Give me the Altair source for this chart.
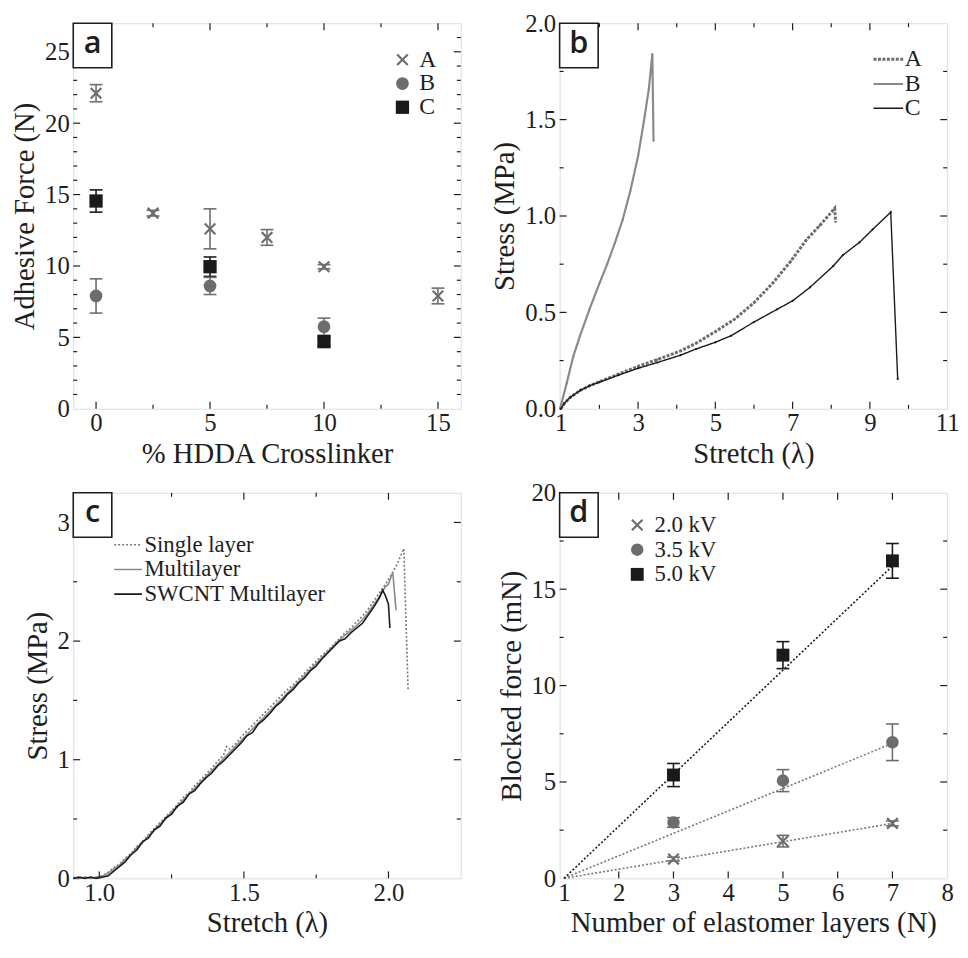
import altair as alt
import pandas as pd

SERIF = "Liberation Serif"
SANS = "Open Sans"
FRAME = "#1e1e1e"
GRAY = "#6d6d6d"
LGRAY = "#8a8a8a"
BLACK = "#1a1a1a"
W, H = 392, 390
XPATH = "M-1,-0.75L-0.75,-1L0,-0.25L0.75,-1L1,-0.75L0.25,0L1,0.75L0.75,1L0,0.25L-0.75,1L-1,0.75L-0.25,0Z"

# ---------------- panel a : adhesive force ----------------
a_series = ["A", "B", "C"]
a_A_x = [0, 2.5, 5, 7.5, 10, 15]
a_A_y = [22.1, 13.7, 12.6, 12.0, 9.95, 7.9]
a_A_err = [0.6, 0.2, 1.4, 0.55, 0.15, 0.55]
a_B_x = [0, 5, 10]
a_B_y = [7.9, 8.6, 5.75]
a_B_err = [1.2, 0.6, 0.6]
a_C_x = [0, 5, 10]
a_C_y = [14.55, 9.95, 4.7]
a_C_err = [0.78, 0.68, 0.3]

# ---------------- panel b : stress-stretch ----------------
b_series = ["A", "B", "C"]
b_A_x = [1.0, 1.1, 1.25, 1.5, 1.75, 2.0, 2.5, 3.0, 3.5, 4.1, 4.5, 5.0, 5.5, 6.0, 6.5, 6.95, 7.35, 7.7, 8.09, 8.11]
b_A_y = [0.0, 0.03, 0.06, 0.095, 0.12, 0.14, 0.18, 0.22, 0.255, 0.30, 0.34, 0.40, 0.465, 0.55, 0.655, 0.765, 0.875, 0.95, 1.04, 0.97]
b_B_x = [0.98, 1.15, 1.32, 1.5, 1.75, 2.0, 2.2, 2.4, 2.6, 2.8, 3.0, 3.15, 3.28, 3.37, 3.40]
b_B_y = [0.0, 0.13, 0.27, 0.38, 0.52, 0.65, 0.75, 0.86, 0.98, 1.13, 1.31, 1.49, 1.66, 1.84, 1.39]
b_C_x = [1.0, 1.1, 1.25, 1.5, 1.75, 2.0, 2.5, 3.0, 3.5, 4.1, 4.5, 5.0, 5.4, 6.0, 6.6, 7.0, 7.45, 8.05, 8.3, 8.73, 9.07, 9.54, 9.72]
b_C_y = [0.0, 0.03, 0.06, 0.095, 0.12, 0.138, 0.175, 0.21, 0.24, 0.278, 0.31, 0.345, 0.378, 0.45, 0.516, 0.56, 0.63, 0.74, 0.797, 0.863, 0.93, 1.02, 0.155]

# ---------------- panel c : layers stress-stretch ----------------
c_series = ["Single layer", "Multilayer", "SWCNT Multilayer"]
c_single_x = [0.91, 0.93, 0.95, 0.97, 0.99, 1.01, 1.03, 1.05, 1.07, 1.09, 1.11, 1.13, 1.15, 1.17, 1.19, 1.21, 1.23, 1.25, 1.27, 1.29,
              1.31, 1.33, 1.35, 1.37, 1.39, 1.41, 1.43, 1.44, 1.45, 1.47, 1.49, 1.51, 1.53, 1.55, 1.57, 1.59, 1.61, 1.63, 1.65, 1.67,
              1.69, 1.71, 1.73, 1.75, 1.77, 1.79, 1.81, 1.83, 1.85, 1.87, 1.89, 1.91, 1.93, 1.95, 1.97, 1.99, 2.01, 2.03, 2.053, 2.068]
c_single_y = [0.01, 0.00, 0.01, 0.00, 0.01, 0.02, 0.05, 0.09, 0.12, 0.17, 0.21, 0.27, 0.31, 0.37, 0.42, 0.47, 0.52, 0.57, 0.62, 0.68,
              0.72, 0.78, 0.83, 0.88, 0.93, 0.99, 1.04, 1.11, 1.09, 1.13, 1.19, 1.24, 1.29, 1.34, 1.39, 1.44, 1.49, 1.54, 1.59, 1.63,
              1.68, 1.73, 1.78, 1.83, 1.88, 1.92, 1.97, 2.02, 2.07, 2.11, 2.16, 2.21, 2.27, 2.34, 2.41, 2.48, 2.56, 2.65, 2.78, 1.58]
c_multi_x = [0.91, 0.93, 0.95, 0.97, 0.99, 1.01, 1.03, 1.05, 1.07, 1.09, 1.11, 1.13, 1.15, 1.17, 1.19, 1.21, 1.23, 1.25, 1.27, 1.29,
             1.31, 1.33, 1.35, 1.37, 1.39, 1.41, 1.43, 1.45, 1.47, 1.49, 1.51, 1.53, 1.55, 1.57, 1.59, 1.61, 1.63, 1.65, 1.67, 1.69,
             1.71, 1.73, 1.75, 1.77, 1.79, 1.81, 1.83, 1.85, 1.87, 1.89, 1.91, 1.93, 1.95, 1.97, 1.99, 2.0, 2.015, 2.026]
c_multi_y = [0.00, 0.00, 0.01, 0.00, 0.01, 0.02, 0.04, 0.08, 0.11, 0.16, 0.20, 0.26, 0.30, 0.36, 0.40, 0.46, 0.50, 0.56, 0.60, 0.66,
             0.71, 0.76, 0.81, 0.86, 0.91, 0.96, 1.01, 1.06, 1.11, 1.16, 1.21, 1.26, 1.31, 1.36, 1.41, 1.46, 1.51, 1.56, 1.61, 1.66,
             1.71, 1.76, 1.81, 1.86, 1.91, 1.96, 2.01, 2.05, 2.09, 2.13, 2.18, 2.24, 2.31, 2.38, 2.46, 2.48, 2.58, 2.26]
c_swcnt_x = [0.91, 0.93, 0.95, 0.97, 0.99, 1.01, 1.03, 1.05, 1.07, 1.09, 1.11, 1.13, 1.15, 1.17, 1.19, 1.21, 1.23, 1.25, 1.27, 1.29,
             1.31, 1.33, 1.35, 1.37, 1.39, 1.41, 1.43, 1.45, 1.47, 1.49, 1.51, 1.53, 1.55, 1.57, 1.59, 1.61, 1.63, 1.65, 1.67, 1.69,
             1.71, 1.73, 1.75, 1.77, 1.79, 1.81, 1.83, 1.85, 1.87, 1.89, 1.91, 1.93, 1.95, 1.97, 1.98, 1.99, 2.0, 2.005]
c_swcnt_y = [0.00, 0.01, 0.00, 0.01, 0.00, 0.01, 0.02, 0.06, 0.10, 0.14, 0.20, 0.24, 0.31, 0.34, 0.41, 0.44, 0.51, 0.54, 0.61, 0.64,
             0.71, 0.74, 0.80, 0.85, 0.89, 0.95, 0.99, 1.04, 1.09, 1.14, 1.20, 1.23, 1.30, 1.34, 1.39, 1.45, 1.49, 1.55, 1.59, 1.65,
             1.69, 1.75, 1.79, 1.85, 1.90, 1.95, 2.00, 2.02, 2.07, 2.11, 2.15, 2.22, 2.29, 2.37, 2.43, 2.38, 2.31, 2.11]

# ---------------- panel d : blocked force ----------------
d_series = ["2.0 kV", "3.5 kV", "5.0 kV"]
d_x = [3, 5, 7]
d_20_y = [1.0, 1.93, 2.85]
d_20_err = [0.1, 0.3, 0.13]
d_35_y = [2.9, 5.07, 7.06]
d_35_err = [0.25, 0.57, 0.95]
d_50_y = [5.36, 11.58, 16.47]
d_50_err = [0.6, 0.7, 0.9]
d_fit_x = [1, 7]
d_20_fit = [0, 2.85]
d_35_fit = [0, 7.0]
d_50_fit = [0, 16.2]

AX_STYLE = dict(ticks=False, tickSize=0, domain=False, grid=False, labelFlush=False, labelOverlap=False,
                labelFont=SERIF, labelFontSize=25, labelColor=FRAME, titleFont=SERIF, titleFontSize=29,
                titleFontWeight="normal", titleColor=FRAME)


def xaxis(title, values, fmt):
    return alt.Axis(title=title, values=values, format=fmt, labelPadding=2, titlePadding=4, **AX_STYLE)


def yaxis(title, values, fmt):
    return alt.Axis(title=title, values=values, format=fmt, labelPadding=4, titlePadding=5, **AX_STYLE)


def frame_ticks(xs, ys, axx, axy, xmaj, xmin, ymaj, ymin, maj=7, mnr=4):
    layers = []

    def rule(vals):
        return alt.Chart(pd.DataFrame({"v": vals})).mark_rule(color=FRAME, strokeWidth=1.2)

    for vals, L in ((xmaj, maj), (xmin, mnr)):
        if not vals:
            continue
        x = alt.X("v:Q", scale=xs, axis=axx)
        layers.append(rule(vals).encode(x=x, y=alt.value(H), y2=alt.value(H - L)))
        layers.append(rule(vals).encode(x=x, y=alt.value(0), y2=alt.value(L)))
    for vals, L in ((ymaj, maj), (ymin, mnr)):
        if not vals:
            continue
        y = alt.Y("v:Q", scale=ys, axis=axy)
        layers.append(rule(vals).encode(y=y, x=alt.value(0), x2=alt.value(L)))
        layers.append(rule(vals).encode(y=y, x=alt.value(W), x2=alt.value(W - L)))
    return layers


def panel_label(t):
    d = pd.DataFrame({"t": [t]})
    box = alt.Chart(d).mark_rect(fill="white", stroke=FRAME, strokeWidth=1.6).encode(
        x=alt.value(0), x2=alt.value(39), y=alt.value(0), y2=alt.value(45))
    txt = alt.Chart(d).mark_text(font=SANS, fontSize=31, fontWeight=600, color=FRAME,
                                 baseline="middle", align="center").encode(
        x=alt.value(19.5), y=alt.value(21), text="t:N")
    return [box, txt]


def errbars(df, xs, ys, axx, axy, cap=13):
    x = alt.X("x:Q", scale=xs, axis=axx)
    col = alt.Color("c:N", scale=None)
    r = alt.Chart(df).mark_rule(strokeWidth=1.6).encode(
        x=x, y=alt.Y("lo:Q", scale=ys, axis=axy), y2="hi:Q", color=col)
    lo = alt.Chart(df).mark_tick(orient="horizontal", size=cap, thickness=1.6, opacity=1).encode(
        x=x, y=alt.Y("lo:Q", scale=ys, axis=axy), color=col)
    hi = alt.Chart(df).mark_tick(orient="horizontal", size=cap, thickness=1.6, opacity=1).encode(
        x=x, y=alt.Y("hi:Q", scale=ys, axis=axy), color=col)
    return [r, lo, hi]


def pts_frame(series, xs_list, ys_list, errs_list, colors):
    rows = []
    for s, xs, ys, es, c in zip(series, xs_list, ys_list, errs_list, colors):
        for x, y, e in zip(xs, ys, es):
            rows.append({"s": s, "x": x, "y": y, "lo": y - e, "hi": y + e, "c": c})
    return pd.DataFrame(rows)


def lines_frame(series, xs_list, ys_list, colors=None):
    rows = []
    colors = colors or [None] * len(series)
    for s, xs, ys, c in zip(series, xs_list, ys_list, colors):
        for i, (x, y) in enumerate(zip(xs, ys)):
            rows.append({"s": s, "x": x, "y": y, "i": i, "c": c})
    return pd.DataFrame(rows)


# ================= panel a =================
xs_a = alt.Scale(domain=[-1, 16], nice=False, zero=False)
ys_a = alt.Scale(domain=[0, 27], nice=False, zero=False)
ax_ax = xaxis("% HDDA Crosslinker", [0, 5, 10, 15], "d")
ax_ay = yaxis("Adhesive Force (N)", [0, 5, 10, 15, 20, 25], "d")
df_a = pts_frame(a_series, [a_A_x, a_B_x, a_C_x], [a_A_y, a_B_y, a_C_y],
                 [a_A_err, a_B_err, a_C_err], [GRAY, GRAY, BLACK])
leg_a = alt.Legend(orient="none", legendX=321, legendY=25, title=None, labelFont=SERIF,
                   labelFontSize=24, labelColor=FRAME, symbolSize=150, rowPadding=-2,
                   labelOffset=5, padding=0, symbolStrokeWidth=0)
pts_a = alt.Chart(df_a).mark_point(filled=True, opacity=1).encode(
    x=alt.X("x:Q", scale=xs_a, axis=ax_ax),
    y=alt.Y("y:Q", scale=ys_a, axis=ax_ay),
    shape=alt.Shape("s:N", scale=alt.Scale(domain=a_series, range=[XPATH, "circle", "square"]), legend=leg_a),
    color=alt.Color("s:N", scale=alt.Scale(domain=a_series, range=[GRAY, GRAY, BLACK]), legend=leg_a),
    size=alt.Size("s:N", scale=alt.Scale(domain=a_series, range=[150, 180, 190]), legend=None),
)
panel_a = alt.layer(
    *errbars(df_a, xs_a, ys_a, ax_ax, ax_ay), pts_a,
    *frame_ticks(xs_a, ys_a, ax_ax, ax_ay, [0, 5, 10, 15], [2.5, 7.5, 12.5],
                 [5, 10, 15, 20, 25], [1, 2, 3, 4, 6, 7, 8, 9, 11, 12, 13, 14, 16, 17, 18, 19, 21, 22, 23, 24, 26]),
    *panel_label("a"),
).properties(width=W, height=H)

# ================= panel b =================
xs_b = alt.Scale(domain=[0.97, 11], nice=False, zero=False)
ys_b = alt.Scale(domain=[0, 2], nice=False, zero=False)
ax_bx = xaxis("Stretch (λ)", [1, 3, 5, 7, 9, 11], "d")
ax_by = yaxis("Stress (MPa)", [0, 0.5, 1, 1.5, 2], ".1f")
df_b = lines_frame(b_series, [b_A_x, b_B_x, b_C_x], [b_A_y, b_B_y, b_C_y])
leg_b = alt.Legend(orient="none", legendX=320, legendY=24, title=None, labelFont=SERIF,
                   labelFontSize=24, labelColor=FRAME, symbolSize=484, rowPadding=0,
                   labelOffset=4, padding=0, symbolStrokeWidth=1.6, symbolType="M-1.36,0L1.36,0")
lines_b = alt.Chart(df_b).mark_line(point=alt.OverlayMarkDef(size=5, filled=True, opacity=1)).encode(
    x=alt.X("x:Q", scale=xs_b, axis=ax_bx),
    y=alt.Y("y:Q", scale=ys_b, axis=ax_by),
    color=alt.Color("s:N", scale=alt.Scale(domain=b_series, range=[GRAY, LGRAY, BLACK]), legend=leg_b),
    strokeDash=alt.StrokeDash("s:N", scale=alt.Scale(domain=b_series, range=[[3, 1.5], [1, 0], [1, 0]]), legend=leg_b),
    strokeWidth=alt.StrokeWidth("s:N", scale=alt.Scale(domain=b_series, range=[3, 1.4, 1.6]), legend=None),
    order=alt.Order("i:Q"),
)
panel_b = alt.layer(
    lines_b,
    *frame_ticks(xs_b, ys_b, ax_bx, ax_by, [3, 5, 7, 9], [2, 4, 6, 8, 10],
                 [0.5, 1, 1.5], [0.25, 0.75, 1.25, 1.75]),
    *panel_label("b"),
).properties(width=W, height=H)

# ================= panel c =================
xs_c = alt.Scale(domain=[0.91, 2.25], nice=False, zero=False)
ys_c = alt.Scale(domain=[0, 3.25], nice=False, zero=False)
ax_cx = xaxis("Stretch (λ)", [1, 1.5, 2], ".1f")
ax_cy = yaxis("Stress (MPa)", [0, 1, 2, 3], "d")
df_c = lines_frame(c_series, [c_single_x, c_multi_x, c_swcnt_x], [c_single_y, c_multi_y, c_swcnt_y])
leg_c = alt.Legend(orient="none", legendX=43, legendY=40, title=None, labelFont=SERIF,
                   labelFontSize=23, labelColor=FRAME, symbolSize=529, rowPadding=0,
                   labelOffset=4, padding=0, symbolStrokeWidth=1.6, symbolType="M-1.22,0L1.22,0",
                   labelLimit=400)
lines_c = alt.Chart(df_c).mark_line().encode(
    x=alt.X("x:Q", scale=xs_c, axis=ax_cx),
    y=alt.Y("y:Q", scale=ys_c, axis=ax_cy),
    color=alt.Color("s:N", scale=alt.Scale(domain=c_series, range=["#777777", LGRAY, BLACK]), legend=leg_c),
    strokeDash=alt.StrokeDash("s:N", scale=alt.Scale(domain=c_series, range=[[2, 2], [1, 0], [1, 0]]), legend=leg_c),
    strokeWidth=alt.StrokeWidth("s:N", scale=alt.Scale(domain=c_series, range=[1.6, 1.6, 2.2]), legend=None),
    order=alt.Order("i:Q"),
)
panel_c = alt.layer(
    lines_c,
    *frame_ticks(xs_c, ys_c, ax_cx, ax_cy, [1, 1.5, 2], [1.25, 1.75],
                 [1, 2, 3], [0.5, 1.5, 2.5]),
    *panel_label("c"),
).properties(width=W, height=H)

# ================= panel d =================
xs_d = alt.Scale(domain=[0.92, 8], nice=False, zero=False)
ys_d = alt.Scale(domain=[0, 20], nice=False, zero=False)
ax_dx = xaxis("Number of elastomer layers (N)", [1, 2, 3, 4, 5, 6, 7, 8], "d")
ax_dy = yaxis("Blocked force (mN)", [0, 5, 10, 15, 20], "d")
df_d = pts_frame(d_series, [d_x, d_x, d_x], [d_20_y, d_35_y, d_50_y],
                 [d_20_err, d_35_err, d_50_err], [GRAY, GRAY, BLACK])
df_dfit = lines_frame(d_series, [d_fit_x] * 3, [d_20_fit, d_35_fit, d_50_fit],
                      ["#777777", "#777777", BLACK])
fit_d = alt.Chart(df_dfit).mark_line(strokeDash=[2, 2], strokeWidth=1.6).encode(
    x=alt.X("x:Q", scale=xs_d, axis=ax_dx),
    y=alt.Y("y:Q", scale=ys_d, axis=ax_dy),
    color=alt.Color("c:N", scale=None),
    detail="s:N",
)
leg_d = alt.Legend(orient="none", legendX=67, legendY=21, title=None, labelFont=SERIF,
                   labelFontSize=23, labelColor=FRAME, symbolSize=150, rowPadding=1,
                   labelOffset=6, padding=0, symbolStrokeWidth=0)
pts_d = alt.Chart(df_d).mark_point(filled=True, opacity=1).encode(
    x=alt.X("x:Q", scale=xs_d, axis=ax_dx),
    y=alt.Y("y:Q", scale=ys_d, axis=ax_dy),
    shape=alt.Shape("s:N", scale=alt.Scale(domain=d_series, range=[XPATH, "circle", "square"]), legend=leg_d),
    color=alt.Color("s:N", scale=alt.Scale(domain=d_series, range=[GRAY, GRAY, BLACK]), legend=leg_d),
    size=alt.Size("s:N", scale=alt.Scale(domain=d_series, range=[150, 170, 175]), legend=None),
)
panel_d = alt.layer(
    fit_d, *errbars(df_d, xs_d, ys_d, ax_dx, ax_dy), pts_d,
    *frame_ticks(xs_d, ys_d, ax_dx, ax_dy, [2, 3, 4, 5, 6, 7], [],
                 [5, 10, 15], [2.5, 7.5, 12.5, 17.5]),
    *panel_label("d"),
).properties(width=W, height=H)

chart = alt.concat(panel_a, panel_b, panel_c, panel_d, columns=2).properties(
    spacing={"row": 11, "column": 28},
    padding={"left": 2, "top": -3, "right": 0, "bottom": 0},
).resolve_scale(
    color="independent", shape="independent", strokeDash="independent",
    size="independent", strokeWidth="independent",
).configure_view(
    stroke=FRAME, strokeWidth=1.6
).configure_axis(
    labelFont=SERIF, titleFont=SERIF, labelFontSize=25, titleFontSize=29,
    titleFontWeight="normal", labelColor=FRAME, titleColor=FRAME,
).configure_legend(
    labelFont=SERIF
).configure(background="white")

chart.save("out.html", embed_options={"renderer": "svg", "actions": False})
